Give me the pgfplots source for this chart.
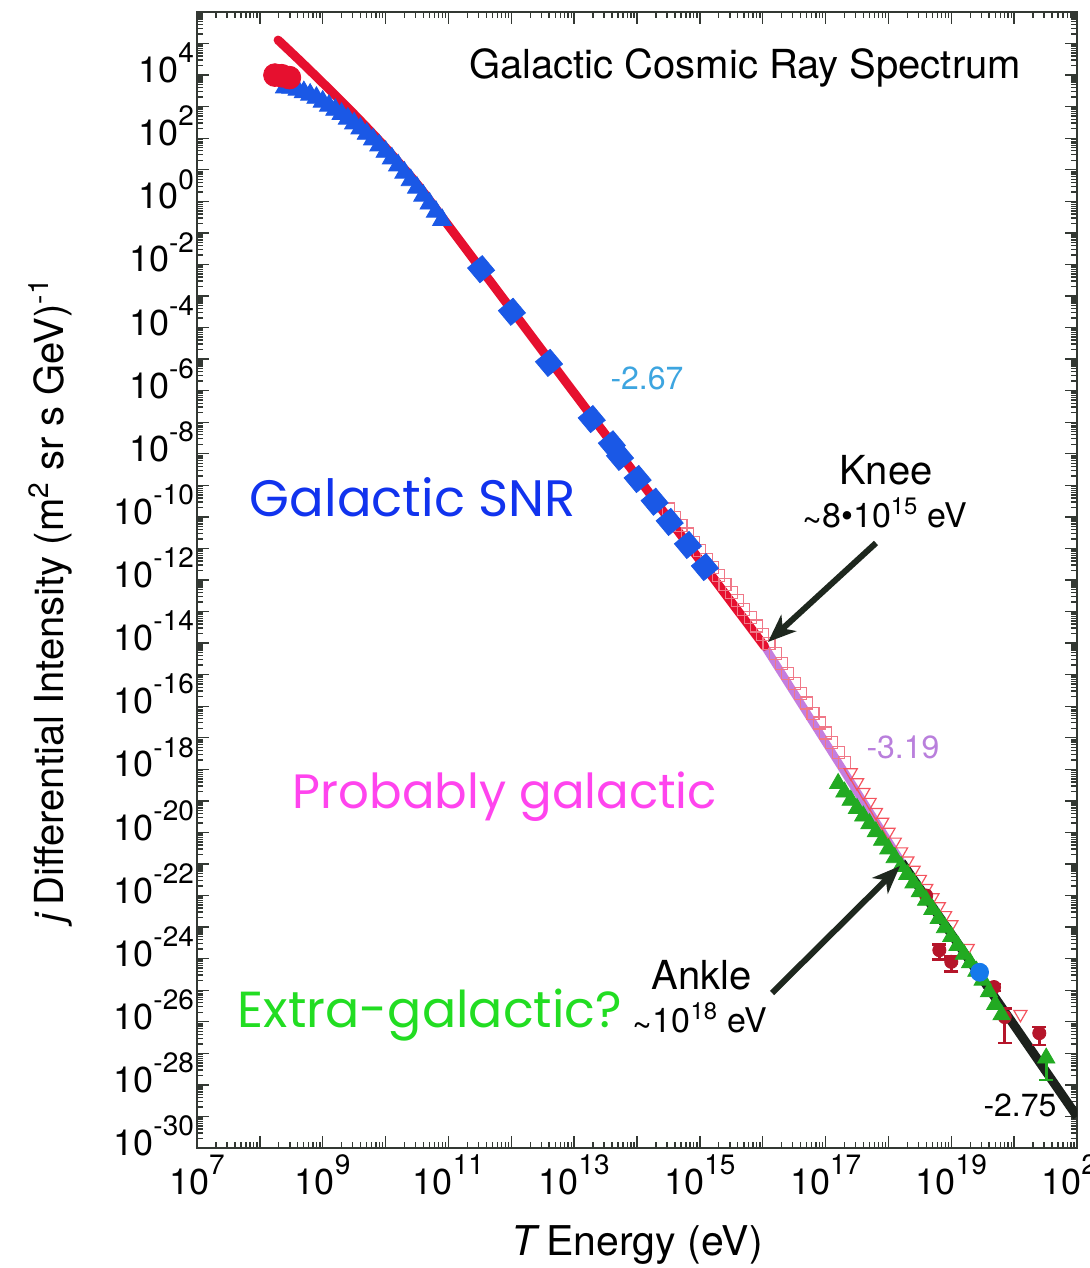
\documentclass[border=0pt]{standalone}
\usepackage{pgfplots}
\pgfplotsset{compat=1.18}
\usetikzlibrary{arrows.meta}
\usepackage{fontspec}
\setmainfont{TeX Gyre Heros}
\newfontfamily\comic{Poppins}
\newcommand{\sps}[1]{\raisebox{0.55em}{\fontsize{14}{15}\selectfont #1}}
\definecolor{cred}{HTML}{E6102F}
\definecolor{cpurple}{HTML}{C47EDF}
\definecolor{cblack}{HTML}{1C211C}
\definecolor{cblue}{HTML}{1A58E6}
\definecolor{cgreen}{HTML}{22AA22}
\definecolor{cpink}{HTML}{F07888}
\definecolor{cdred}{HTML}{B5152A}
\definecolor{axgray}{HTML}{333833}
\definecolor{lblue}{HTML}{3DA5E0}
\definecolor{lpurple}{HTML}{B97FDC}
\definecolor{snrblue}{HTML}{1133EE}
\definecolor{magenta2}{HTML}{FF44EE}
\definecolor{lgreen}{HTML}{22DD22}
\definecolor{arrowc}{HTML}{1E271E}
\begin{document}
\begin{tikzpicture}
\begin{axis}[
  at={(0,0)}, anchor=south west,
  scale only axis, width=440pt, height=568pt,
  xmode=log, ymode=log,
  xmin=1e7, xmax=1e21, ymin=1e-30, ymax=1e6,
  xtick={1e7,1e8,1e9,1e10,1e11,1e12,1e13,1e14,1e15,1e16,1e17,1e18,1e19,1e20,1e21},
  xticklabels={10\sps{7},,10\sps{9},,10\sps{11},,10\sps{13},,10\sps{15},,10\sps{17},,10\sps{19},,10\sps{21}},
  ytick={1e-30,1e-29,1e-28,1e-27,1e-26,1e-25,1e-24,1e-23,1e-22,1e-21,1e-20,1e-19,1e-18,1e-17,1e-16,1e-15,1e-14,1e-13,1e-12,1e-11,1e-10,1e-9,1e-8,1e-7,1e-6,1e-5,1e-4,1e-3,1e-2,1e-1,1,1e1,1e2,1e3,1e4,1e5,1e6},
  yticklabels={10\sps{-30},,10\sps{-28},,10\sps{-26},,10\sps{-24},,10\sps{-22},,10\sps{-20},,10\sps{-18},,10\sps{-16},,10\sps{-14},,10\sps{-12},,10\sps{-10},,10\sps{-8},,10\sps{-6},,10\sps{-4},,10\sps{-2},,10\sps{0},,10\sps{2},,10\sps{4},,},
  tick label style={font=\fontsize{18}{20}\selectfont, color=black},
  yticklabel style={xshift=2pt, yshift=6pt},
  major tick length=6pt, minor tick length=3pt,
  axis line style={line width=1.1pt, color=axgray},
  every tick/.style={line width=0.7pt, color=axgray},
  xlabel={\textit{T}\,Energy (eV)},
  ylabel={\textit{j}\,Differential Intensity (m\textsuperscript{2} sr s GeV)\textsuperscript{-1}},
  x label style={font=\fontsize{20.5}{24}\selectfont, at={(axis description cs:0.5,-0.0854)}, anchor=center},
  y label style={font=\fontsize{20}{24}\selectfont, at={(axis description cs:-0.167,0.482)}, anchor=center, rotate=0},
  clip=true,
]
% pink open squares
\addplot[only marks, mark=square, mark size=3pt, mark options={draw=cpink, line width=0.6pt}] coordinates {
(3.162e14,1.778e-10) (3.981e14,9.772e-11) (5.012e14,5.248e-11) (6.310e14,2.884e-11) (7.943e14,1.549e-11)
(1e15,8.511e-12) (1.259e15,4.571e-12) (1.585e15,2.512e-12) (1.995e15,1.349e-12) (2.512e15,7.413e-13)
(3.162e15,3.981e-13) (3.981e15,2.188e-13) (5.012e15,1.175e-13) (6.310e15,6.457e-14) (7.943e15,3.467e-14)
(1e16,1.905e-14) (1.259e16,9.550e-15) (1.585e16,4.677e-15) (1.995e16,2.239e-15) (2.512e16,1.096e-15)
(3.162e16,5.248e-16) (3.981e16,2.570e-16) (5.012e16,1.259e-16) (6.310e16,6.026e-17) (7.943e16,2.951e-17)
(1e17,1.413e-17) (1.259e17,6.918e-18) (1.585e17,3.388e-18) (1.995e17,1.622e-18)
};
% open down triangles
\addplot[only marks, mark=triangle, mark size=3.8pt, mark options={draw=cpink!70!red, line width=0.6pt, rotate=180}] coordinates {
(2.512e17,7.943e-19) (3.162e17,3.802e-19) (3.981e17,1.862e-19) (5.012e17,9.120e-20) (6.310e17,4.365e-20)
(7.943e17,2.138e-20) (1e18,1.023e-20) (1.259e18,5.012e-21) (1.585e18,2.455e-21) (1.995e18,1.259e-21)
(2.512e18,6.457e-22) (3.162e18,3.311e-22) (3.981e18,1.698e-22) (5.012e18,8.710e-23) (6.310e18,4.467e-23)
(7.943e18,2.344e-23) (1e19,1.202e-23) (1.820e19,2.138e-24) (1.259e20,1.738e-26)
};
% black line
\addplot[cblack, line width=4.5pt] coordinates {(1.622e18,1.148e-21) (1e21,1e-29)};
% dark red circles with error bars
\addplot[only marks, mark=*, mark size=3.3pt, color=cdred,
  error bars/.cd, y dir=both, y explicit,
  error bar style={line width=1.3pt, color=cdred},
  error mark options={line width=1.3pt, mark size=3.5pt, rotate=90, color=cdred}] coordinates {
(3.981e18,1e-22)
(6.457e18,1.862e-24) +- (0,0.9e-24)
(1e19,7.943e-25) +- (0,4e-25)
(4.786e19,1.259e-25) +- (0,3e-26)
(7.079e19,1.413e-26) +- (0,1.2e-26)
(2.512e20,4.365e-27) +- (0,2.5e-27)
};
% green triangles
\addplot[only marks, mark=triangle*, mark size=5pt, color=cgreen, mark options={draw=cgreen}] coordinates {
(1.585e17,3.548e-19) (1.995e17,1.905e-19) (2.512e17,1.047e-19) (3.162e17,5.754e-20) (3.981e17,3.311e-20)
(5.012e17,1.905e-20) (6.310e17,1.047e-20) (7.943e17,5.623e-21) (1e18,3.020e-21) (1.259e18,1.585e-21)
(1.585e18,8.318e-22) (1.995e18,4.677e-22) (2.512e18,2.512e-22) (3.162e18,1.318e-22) (3.981e18,7.079e-23)
(5.012e18,3.631e-23) (6.310e18,1.862e-23) (7.943e18,9.550e-24) (1e19,5.012e-24) (1.259e19,2.630e-24)
(1.585e19,1.380e-24) (1.995e19,7.413e-25) (2.512e19,3.981e-25) (3.162e19,2.089e-25) (3.981e19,8.913e-26)
(5.012e19,3.548e-26) (6.310e19,1.660e-26)
};
\addplot[only marks, mark=triangle*, mark size=5pt, color=cgreen,
  error bars/.cd, y dir=minus, y explicit,
  error bar style={line width=1.3pt, color=cgreen},
  error mark options={line width=1.3pt, mark size=3.5pt, rotate=90, color=cgreen}] coordinates {
(3.236e20,7.079e-28) -= (0,5.666e-28)
};
% purple line
\addplot[cpurple, line width=4pt] coordinates {(1.07e16,7.94e-15) (1.622e18,1.148e-21)};
% red line
\addplot[cred, line width=4.5pt, smooth, line cap=round] coordinates {
(1.95e8,1.29e5) (4.37e8,2.82e4) (1.17e9,4.17e3) (3.16e9,575) (9.12e9,61.7) (3.16e10,3.55) (1e11,0.170) (3.31e11,7.08e-3) (1.07e16,7.94e-15)
};
% blue triangles
\addplot[only marks, mark=triangle*, mark size=5.5pt, color=cblue, mark options={draw=cblue}] coordinates {
(2.512e8,4.074e3) (3.162e8,3.981e3) (3.981e8,3.467e3) (5.012e8,2.884e3) (6.310e8,2.399e3)
(7.943e8,1.905e3) (1e9,1.445e3) (1.259e9,1.072e3) (1.585e9,794.3) (1.995e9,588.8)
(2.512e9,416.9) (3.162e9,295.1) (3.981e9,204.2) (5.012e9,138.0) (6.310e9,91.20)
(7.943e9,58.88) (1e10,37.15) (1.259e10,22.91) (1.585e10,13.80) (1.995e10,8.128)
(2.512e10,4.677) (3.162e10,2.692) (3.981e10,1.514) (5.012e10,0.8511) (6.310e10,0.4677) (7.943e10,0.2570)
};
% blue diamonds
\addplot[only marks, mark=square*, mark size=4.8pt, color=cblue, mark options={rotate=40, draw=cblue}] coordinates {
(3.31e11,7.08e-3) (1.023e12,3.162e-4) (3.981e12,7.586e-6) (1.905e13,1.259e-7) (3.981e13,1.995e-8)
(5.370e13,7.943e-9) (1.023e14,1.585e-9) (1.905e14,3.020e-10) (3.311e14,6.918e-11) (6.457e14,1.288e-11) (1.202e15,2.570e-12)
};
% blue circle
\addplot[only marks, mark=*, mark size=4.5pt, color=cblue!80!cyan] coordinates {(2.818e19,3.715e-25)};
% red blob
\addplot[only marks, mark=*, mark size=5.7pt, color=cred] coordinates {(1.738e8,1e4) (2.239e8,9.550e3) (2.951e8,8.318e3)};
\end{axis}
% annotations
\node[font=\fontsize{20}{24}\selectfont] at (274pt,540pt) {Galactic Cosmic Ray Spectrum};
\node[font=\fontsize{16}{19}\selectfont, color=lblue] at (225pt,385pt) {-2.67};
\node[font=\fontsize{20}{24}\selectfont] at (344.5pt,339pt) {Knee};
\node[font=\fontsize{17}{20}\selectfont] at (344pt,316.5pt) {\raisebox{-0.3ex}{\textasciitilde}8\textbullet 10\textsuperscript{15} eV};
\node[font=\fontsize{16}{19}\selectfont, color=lpurple] at (353pt,200.5pt) {-3.19};
\node[font=\fontsize{20}{24}\selectfont] at (252.5pt,86.5pt) {Ankle};
\node[font=\fontsize{17}{20}\selectfont] at (251.5pt,64pt) {\raisebox{-0.3ex}{\textasciitilde}10\textsuperscript{18} eV};
\node[font=\fontsize{16}{19}\selectfont] at (411.5pt,21.5pt) {-2.75};
\node[color=snrblue] at (108pt,325.5pt) {\resizebox{163pt}{!}{\comic Galactic SNR}};
\node[color=magenta2] at (154pt,175.5pt) {\resizebox{212pt}{!}{\comic Probably galactic}};
\node[color=lgreen] at (116.5pt,66.5pt) {\resizebox{192pt}{!}{\comic Extra-galactic?}};
\draw[arrowc, line width=3pt, -{Stealth[length=14pt,width=11pt,inset=4pt]}] (339.5pt,302.5pt) -- (285.5pt,253pt);
\draw[arrowc, line width=3pt, -{Stealth[length=14pt,width=11pt,inset=4pt]}] (287.5pt,77.5pt) -- (351.5pt,141pt);
\pgfresetboundingbox
\path (-98.5pt,-60pt) rectangle (446pt,574pt);
\end{tikzpicture}
\end{document}
